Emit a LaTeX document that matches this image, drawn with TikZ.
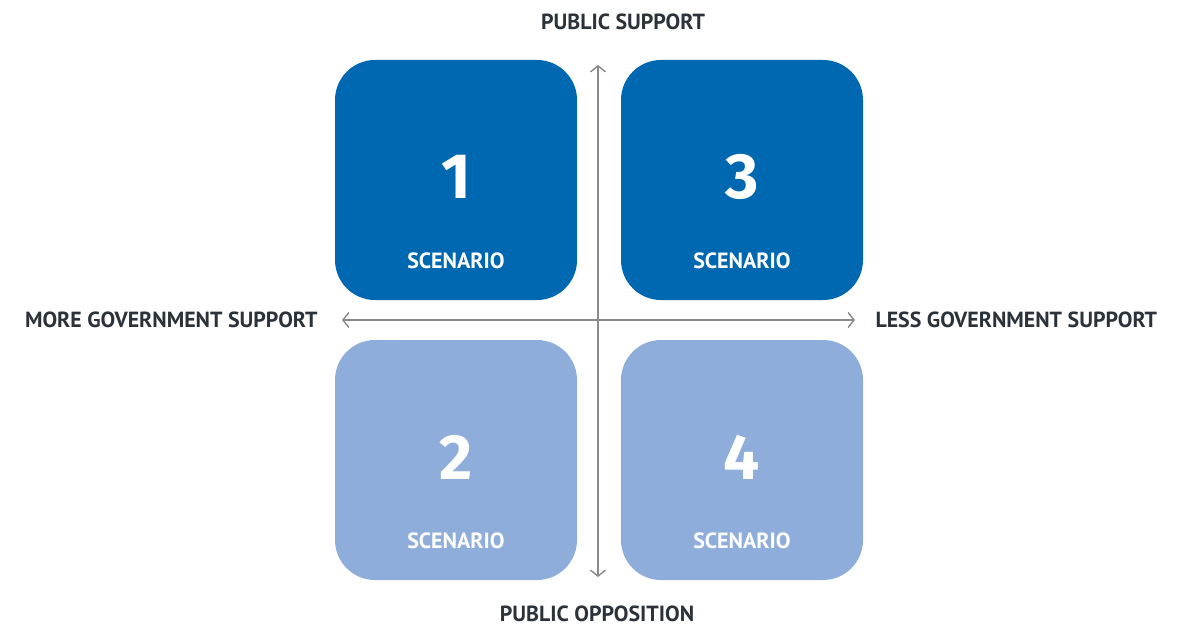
\documentclass[tikz,border=0pt]{standalone}
\usepackage{fontspec}
\setmainfont{PT Sans}
\newfontfamily\numfont{Fira Sans}
\usetikzlibrary{arrows.meta}
\definecolor{darkblue}{HTML}{0067B1}
\definecolor{lightblue}{HTML}{8EADDA}
\definecolor{axisgray}{HTML}{8A8A8A}
\definecolor{labeltext}{HTML}{2B323A}
\begin{document}
\begin{tikzpicture}[x=1pt,y=-1pt,
  box/.style={rounded corners=40pt, minimum width=242pt, minimum height=240pt, inner sep=0pt},
  num/.style={text=white, font=\numfont\bfseries\fontsize{64}{64}\selectfont},
  scen/.style={text=white, font=\bfseries\fontsize{22}{22}\selectfont},
  axislabel/.style={text=labeltext, font=\bfseries\fontsize{21.9}{21.9}\selectfont},
  axis/.style={draw=axisgray, line width=1.4pt, {Straight Barb[length=6pt,width=15pt]}-{Straight Barb[length=6pt,width=15pt]}}]
\useasboundingbox (0,0) rectangle (1186,626);
\node[box, fill=darkblue] (b1) at (456,180) {};
\node[box, fill=darkblue] (b3) at (742,180) {};
\node[box, fill=lightblue] (b2) at (456,460) {};
\node[box, fill=lightblue] (b4) at (742,460) {};
\node[num] (n1) at (456,177) {1};
\node[num] (n3) at (742,177) {3};
\node[num] (n2) at (456,457) {2};
\node[num] (n4) at (742,457) {4};
\node[scen] (s1) at (456,261) {SCENARIO};
\node[scen] (s3) at (742,261) {SCENARIO};
\node[scen] (s2) at (456,541) {SCENARIO};
\node[scen] (s4) at (742,541) {SCENARIO};
\coordinate (top) at (598,65);
\coordinate (bot) at (598,577);
\coordinate (left) at (342,320);
\coordinate (right) at (855,320);
\draw[axis] (bot) -- (top);
\draw[axis] (left) -- (right);
\node[axislabel] (ps) at (623,22) {PUBLIC SUPPORT};
\node[axislabel] (po) at (597,614) {PUBLIC OPPOSITION};
\node[axislabel, anchor=east] (mg) at (321,320) {MORE GOVERNMENT SUPPORT};
\node[axislabel, anchor=west] (lg) at (872,320) {LESS GOVERNMENT SUPPORT};
\end{tikzpicture}
\end{document}
